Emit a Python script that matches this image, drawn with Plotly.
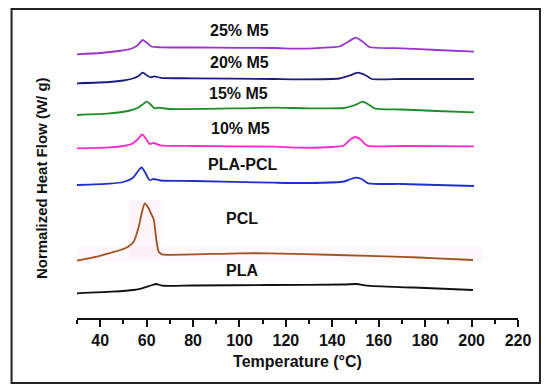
import plotly.graph_objects as go

# Temperature (°C) and normalized heat flow (W/g, offset for stacking)
names = ["25% M5", "20% M5", "15% M5", "10% M5", "PLA-PCL", "PCL", "PLA"]
colors = ["#9933CC", "#1C1C80", "#1E8C28", "#FF2ACF", "#1F2FCC", "#A0521E", "#111111"]

t_25 = [30, 40, 48, 53, 56, 58.3, 60.2, 62, 66, 80, 100, 115, 125, 135, 143, 147, 150, 153, 156, 170, 185, 201]
hf_25 = [2.637, 2.65, 2.67, 2.69, 2.725, 2.78, 2.75, 2.715, 2.707, 2.705, 2.702, 2.70, 2.693, 2.702, 2.715, 2.765, 2.803, 2.765, 2.71, 2.697, 2.68, 2.663]

t_20 = [30, 44, 50, 54, 56.5, 58.3, 60.5, 61.8, 63.3, 66, 80, 115, 125, 143, 147.5, 151, 154.5, 157, 170, 201]
hf_20 = [2.347, 2.36, 2.375, 2.395, 2.42, 2.453, 2.42, 2.407, 2.417, 2.402, 2.397, 2.39, 2.387, 2.395, 2.425, 2.453, 2.425, 2.39, 2.39, 2.39]

t_15 = [30, 44, 52, 56, 58.3, 60, 61.7, 63.3, 65, 70, 100, 115, 130, 145, 149.8, 153.2, 156, 158.5, 170, 185, 201]
hf_15 = [2.03, 2.046, 2.07, 2.10, 2.135, 2.163, 2.135, 2.097, 2.103, 2.09, 2.097, 2.103, 2.097, 2.10, 2.13, 2.163, 2.13, 2.093, 2.085, 2.07, 2.057]

t_10 = [30, 44, 50, 54, 56.3, 58.1, 59.8, 61.3, 63, 66, 80, 115, 125, 140, 145, 147.5, 150, 152.5, 155, 170, 201]
hf_10 = [1.697, 1.707, 1.72, 1.745, 1.79, 1.835, 1.79, 1.74, 1.75, 1.727, 1.72, 1.713, 1.703, 1.71, 1.725, 1.78, 1.81, 1.78, 1.723, 1.72, 1.717]

t_blend = [30, 44, 50, 54, 56, 57.8, 59.5, 61.2, 63, 66, 80, 115, 130, 145, 148, 150.5, 153, 155.5, 170, 185, 201]
hf_blend = [1.33, 1.343, 1.36, 1.40, 1.46, 1.505, 1.45, 1.38, 1.39, 1.375, 1.37, 1.353, 1.35, 1.365, 1.39, 1.403, 1.385, 1.347, 1.34, 1.33, 1.32]

t_pcl = [30, 38.6, 45, 48.7, 52, 54.4, 56.6, 58, 59.2, 60.5, 61.9, 63.1, 64.2, 65.2, 66.7, 70, 100, 113, 142, 170, 185, 200.6]
hf_pcl = [0.573, 0.613, 0.655, 0.68, 0.713, 0.763, 0.913, 1.06, 1.147, 1.11, 1.047, 0.98, 0.78, 0.663, 0.637, 0.632, 0.647, 0.647, 0.63, 0.612, 0.597, 0.58]

t_pla = [30, 45, 54.4, 58, 62.4, 64.2, 66.7, 80, 113, 145, 150.6, 154.9, 175, 200.6]
hf_pla = [0.247, 0.263, 0.28, 0.297, 0.33, 0.34, 0.323, 0.325, 0.33, 0.335, 0.34, 0.323, 0.305, 0.28]

temps = [t_25, t_20, t_15, t_10, t_blend, t_pcl, t_pla]
flows = [hf_25, hf_20, hf_15, hf_10, hf_blend, hf_pcl, hf_pla]

label_x = [100, 100, 99.5, 100.5, 101.7, 101, 101]
label_y = [2.88, 2.56, 2.25, 1.90, 1.54, 1.00, 0.48]

major_ticks = [40, 60, 80, 100, 120, 140, 160, 180, 200, 220]

fig = go.Figure()
for n, c, t, h in zip(names, colors, temps, flows):
    fig.add_trace(go.Scatter(x=t, y=h, mode="lines", name=n,
                             line=dict(color=c, width=1.8, shape="spline", smoothing=0.6)))

for n, lx, ly in zip(names, label_x, label_y):
    fig.add_annotation(x=lx, y=ly, text=n, showarrow=False,
                       font=dict(family="Arial, Liberation Sans", size=16, color="#111", weight="bold"))

# y-axis title, placed like the original
fig.add_annotation(xref="paper", yref="paper", x=-0.1053, y=0.4545, text="Normalized Heat Flow (W/ g)",
                   textangle=-90, showarrow=False,
                   font=dict(family="Arial, Liberation Sans", size=15, color="#111", weight="bold"))

# faint pink highlight around the PCL trace
fig.add_shape(type="rect", x0=52.2, x1=66, y0=0.61, y1=1.18, xref="x", yref="y",
              fillcolor="rgba(250,215,240,0.25)", line_width=0, layer="below")
fig.add_shape(type="rect", x0=30, x1=205, y0=0.56, y1=0.71, xref="x", yref="y",
              fillcolor="rgba(250,215,240,0.2)", line_width=0, layer="below")

# outer frame
fig.add_shape(type="rect", xref="paper", yref="paper", x0=-0.1484, x1=1.0498, y0=-0.211, y1=1.0032,
              line=dict(color="#222", width=2), fillcolor="rgba(0,0,0,0)")

fig.update_layout(
    width=542, height=384,
    margin=dict(l=68.5, r=32, t=2, b=74),
    paper_bgcolor="white", plot_bgcolor="white",
    showlegend=False,
    font=dict(family="Arial, Liberation Sans", color="#111"),
    xaxis=dict(range=[30, 220], tickvals=major_ticks, ticks="outside", ticklen=7, tickwidth=1.5,
               tickcolor="#111", showline=True, linecolor="#111", linewidth=2,
               showgrid=False, zeroline=False, automargin=False,
               minor=dict(dtick=10, tick0=30, ticks="outside", ticklen=4, tickwidth=1.5, tickcolor="#111"),
               tickfont=dict(size=16, weight="bold"),
               title=dict(text="Temperature (°C)", font=dict(size=16, weight="bold"), standoff=8)),
    yaxis=dict(range=[0, 3.08], showticklabels=False, showgrid=False, zeroline=False, showline=False,
               ticks="", automargin=False),
)

fig.write_html("out.html")
